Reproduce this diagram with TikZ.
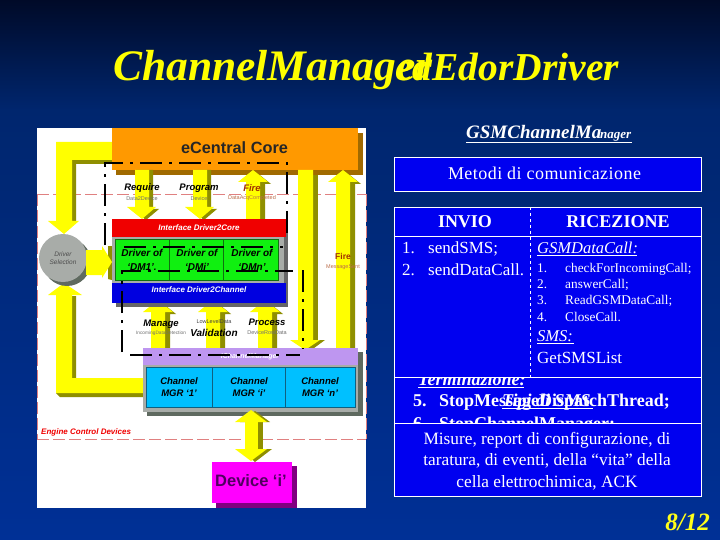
\documentclass[tikz,border=0pt]{standalone}
\usepackage{fontspec}
\setmainfont{Liberation Serif}
\newfontfamily\lsans{Liberation Sans}
\newfontfamily\spaced[LetterSpace=2.5]{Liberation Serif}
\usetikzlibrary{calc}
\definecolor{yel}{HTML}{FFFF00}
\definecolor{oli}{HTML}{8F8F00}
\definecolor{tblue}{HTML}{0000F0}
\definecolor{cgray}{HTML}{A8ACA8}
\definecolor{sgray}{HTML}{5F6A60}
\definecolor{firec}{HTML}{A03000}
\definecolor{orng}{HTML}{FF9900}
\definecolor{orngs}{HTML}{A06A00}
\definecolor{gren}{HTML}{10F010}
\definecolor{grens}{HTML}{107010}
\definecolor{redb}{HTML}{F00000}
\definecolor{blub}{HTML}{0000E0}
\definecolor{cyab}{HTML}{00C0FF}
\definecolor{cyas}{HTML}{106080}
\definecolor{purb}{HTML}{BE96F0}
\definecolor{magb}{HTML}{FF00FF}
\definecolor{mags}{HTML}{800080}
\definecolor{magt}{HTML}{500060}
\definecolor{pinkl}{HTML}{E08080}
\definecolor{grayl}{HTML}{707070}
\definecolor{bg0}{HTML}{000A28}
\definecolor{bg1}{HTML}{00266E}
\definecolor{bg2}{HTML}{003096}
\newcommand{\vdn}[3]{% x, ytop, ytip
  \fill[oli] (#1-6,#2) -- (#1+11,#2) -- (#1+11,#3-10) -- (#1+17,#3-10) -- (#1+4,#3+1) -- (#1-10,#3-10) -- (#1-6,#3-10) -- cycle;
  \fill[yel] (#1-7,#2) -- (#1+7,#2) -- (#1+7,#3-12) -- (#1+14,#3-12) -- (#1,#3) -- (#1-15,#3-12) -- (#1-7,#3-12) -- cycle;}
\newcommand{\vup}[3]{% x, ybot, ytip
  \fill[oli] (#1+7,#2) -- (#1+12,#2) -- (#1+12,#3+14) -- (#1+18,#3+14) -- (#1+3,#3+2) -- (#1+7,#3+14) -- cycle;
  \fill[yel] (#1-7,#2) -- (#1+7,#2) -- (#1+7,#3+12) -- (#1+15,#3+12) -- (#1,#3) -- (#1-15,#3+12) -- (#1-7,#3+12) -- cycle;}
\tikzset{
  lab/.style={font=\lsans\bfseries\itshape\fontsize{9.5}{10}\selectfont,inner sep=0pt,text=black,align=center},
  sublab/.style={font=\lsans\fontsize{5.5}{6}\selectfont,inner sep=0pt,text=grayl},
  drv/.style={font=\lsans\itshape\bfseries\fontsize{10}{14}\selectfont,inner sep=0pt,text=black,align=center},
  band/.style={font=\lsans\bfseries\itshape\fontsize{8}{9}\selectfont,inner sep=0pt,text=white},
  txt/.style={font=\fontsize{17}{18}\selectfont,inner sep=0pt,text=white,anchor=base west},
  stxt/.style={font=\fontsize{13.3}{14}\selectfont,inner sep=0pt,text=white,anchor=base west},
  bluebox/.style={fill=tblue,draw=white,line width=0.8pt},
  ddash/.style={draw=black,line width=2.4pt,dash pattern=on 22pt off 7pt on 3pt off 7pt},
  pinkd/.style={draw=pinkl,line width=0.7pt,dash pattern=on 12pt off 4pt}
}
\begin{document}
\begin{tikzpicture}[x=1pt,y=-1pt]
\useasboundingbox (0,0) rectangle (720,540);
\shade[top color=bg0,bottom color=bg1] (0,0) rectangle (720,110);
\shade[top color=bg1,bottom color=bg2] (0,110) rectangle (720,540);
% title
\node[font=\itshape\bfseries\fontsize{43.5}{45}\selectfont,text=yel,inner sep=0pt,anchor=base west] (t1) at (113,81) {ChannelManager};
\node[font=\itshape\bfseries\fontsize{39.5}{42}\selectfont,text=yel,inner sep=0pt,anchor=base west] (t2) at (395,81) {edEdorDriver};
% white panel
\fill[white] (37,128) rectangle (366,508);
\draw[pinkd] (37,194) -- (366,194);
\draw[pinkd] (37,439) -- (366,439);
\draw[pinkd] (37,194) -- (37,439);
\draw[pinkd] (366,194) -- (366,439);
% left loop arrows
\fill[oli] (76,164) -- (112,164) -- (112,160) -- (72,160) -- (72,222) -- (76,222) -- cycle;
\fill[yel] (56,142) -- (112,142) -- (112,160) -- (72,160) -- (72,221) -- (79,221) -- (64,234) -- (48,221) -- (56,221) -- cycle;
\fill[oli] (56,393) -- (60,397) -- (143,397) -- (143,393) -- cycle;
\fill[oli] (72,296) -- (76,296) -- (76,378) -- (143,378) -- (143,382) -- (72,382) -- cycle;
\fill[yel] (56,393) -- (143,393) -- (143,378) -- (72,378) -- (72,295) -- (82,295) -- (64,283) -- (48,295) -- (56,295) -- cycle;
% driver selection
\fill[sgray] (67,262) circle (24);
\node[circle,fill=cgray,minimum size=48pt,inner sep=0pt,font=\lsans\itshape\fontsize{6.5}{8}\selectfont,align=center,text=black!70] (sel) at (63,258) {Driver\\Selection};
\fill[oli] (108,246) -- (112,246) -- (112,280) -- (108,279) -- cycle;
\fill[yel] (86,250) -- (102,250) -- (102,246) -- (112,262) -- (102,278) -- (102,275) -- (86,275) -- cycle;
% orange
\fill[orngs] (116,133) rectangle (363,175);
\node[fill=orng,minimum width=246pt,minimum height=42pt,inner sep=0pt,anchor=north west] (core) at (112,128) {};
\node[font=\lsans\bfseries\fontsize{16.3}{18}\selectfont,text=black!85,inner sep=0pt] (coret) at (234.5,148) {eCentral Core};
% tall bars
\fill[oli] (313,175) rectangle (318,340);
\fill[oli] (295,340) -- (325,340) -- (310,351) -- cycle;
\fill[yel] (298,170) -- (313,170) -- (313,340) -- (320,340) -- (305,350) -- (290,340) -- (298,340) -- cycle;
\vup{343}{349}{170}
% top arrows
\vdn{142}{170}{219}
\vdn{200}{170}{219}
\vup{253}{219}{170}
\node[lab] (req) at (142,188) {Require};
\node[sublab] (reqs) at (142,198.5) {Data2Device};
\node[lab] (pro) at (199,188) {Program};
\node[sublab] (pros) at (199,198.5) {Device};
\node[lab,text=firec] (fir) at (252,188) {Fire};
\node[sublab,text=firec!70] (firs) at (252,198.5) {DataAcqCompleted};
\node[lab,text=firec,font=\lsans\bfseries\fontsize{8.5}{9}\selectfont] (fir2) at (343,256) {Fire};
\node[sublab,text=firec!70] (fir2s) at (343,267) {MessageSent};
% mid arrows
\vup{158}{348}{300}
\vup{213}{348}{300}
\vup{265}{348}{300}
\node[lab] (man) at (161,324) {Manage};
\node[sublab,font=\lsans\fontsize{4.8}{5}\selectfont] (mans) at (161,333) {IncomingDataDetection};
\node[sublab,text=black!75] (val0) at (214,322) {LowLevelData};
\node[lab,font=\lsans\itshape\bfseries\fontsize{10}{11}\selectfont] (val) at (214,333) {Validation};
\node[lab] (prc) at (267,322) {Process};
\node[sublab] (prcs) at (267,333) {DeviceRowData};
% driver block
\fill[black!60] (116,222) rectangle (288,307);
\fill[cgray] (112,237) rectangle (284,284);
\fill[gren] (115,239) rectangle (278,280);
\draw[grens,line width=0.6pt] (115,239) rectangle (278,280);
\draw[grens,line width=0.6pt] (169,239) -- (169,280);
\draw[grens,line width=0.6pt] (223,239) -- (223,280);
\node[fill=redb,minimum width=174pt,minimum height=18pt,inner sep=0pt,anchor=north west] (ifa) at (112,219) {};
\node[band] (ifat) at (199,228) {Interface Driver2Core};
\node[fill=blub,minimum width=174pt,minimum height=20pt,inner sep=0pt,anchor=north west] (ifb) at (112,283) {};
\node[band] (ifbt) at (199,290) {Interface Driver2Channel};
\node[drv] (d1) at (142,260) {Driver of\\‘DM1’.};
\node[drv] (d2) at (197,260) {Driver of\\‘DMi’};
\node[drv] (d3) at (252,260) {Driver of\\‘DMn’};
% channel block
\fill[sgray] (147,352) rectangle (363,416);
\fill[cgray] (143,365) rectangle (358,412);
\fill[cyab] (146,367) rectangle (355,407);
\draw[cyas,line width=0.6pt] (146,367) rectangle (355,407);
\draw[cyas,line width=0.6pt] (212,367) -- (212,407);
\draw[cyas,line width=0.6pt] (285,367) -- (285,407);
\node[fill=purb,minimum width=215pt,minimum height=17pt,inner sep=0pt,anchor=north west] (pur) at (143,348) {};
\node[band,font=\lsans\bfseries\itshape\fontsize{7}{8}\selectfont] (purt) at (250,357) {IChannelManager};
\node[drv,font=\lsans\itshape\bfseries\fontsize{9.5}{12.5}\selectfont] (c1) at (179,387) {Channel\\MGR ‘1’};
\node[drv,font=\lsans\itshape\bfseries\fontsize{9.5}{12.5}\selectfont] (c2) at (249,387) {Channel\\MGR ‘i’};
\node[drv,font=\lsans\itshape\bfseries\fontsize{9.5}{12.5}\selectfont] (c3) at (320,387) {Channel\\MGR ‘n’};
\node[lab,text=redb,anchor=west,font=\lsans\bfseries\itshape\fontsize{8}{9}\selectfont] (ecd) at (41,432) {Engine Control Devices};
% device
\fill[oli] (258,422) rectangle (263,449);
\fill[oli] (240,422) -- (270,422) -- (255,411) -- cycle;
\fill[oli] (240,449) -- (272,449) -- (255,462) -- cycle;
\fill[yel] (245,420) rectangle (258,450);
\fill[yel] (235,422) -- (267,422) -- (251,410) -- cycle;
\fill[yel] (235,449) -- (267,449) -- (251,461) -- cycle;
\fill[mags] (216,466) rectangle (297,508);
\node[fill=magb,minimum width=80pt,minimum height=41pt,inner sep=0pt,anchor=north west] (dev) at (212,462) {};
\node[font=\lsans\bfseries\fontsize{16.5}{18}\selectfont,text=magt,inner sep=0pt] (devt) at (251,481) {Device ‘i’};
% dash-dot lines
\draw[ddash] (105,245) -- (105,163) -- (287,163) -- (287,240);
\draw[ddash] (124,247) -- (283,247);
\draw[ddash] (122,352) -- (122,271) -- (293,271);
\draw[ddash] (130,355) -- (300,355);
\draw[ddash] (303,270) -- (303,349);
% right header
\node[font=\itshape\bfseries\fontsize{19}{20}\selectfont,text=white,inner sep=0pt,anchor=base west] (h1) at (466,139) {GSMChannelMa};
\node[font=\itshape\bfseries\fontsize{13}{20}\selectfont,text=white,inner sep=0pt,anchor=base west] (h2) at (600,139) {nager};
\draw[white,line width=0.9pt] (466,142) -- (632,142);
\node[bluebox,minimum width=307pt,minimum height=34pt,inner sep=0pt,anchor=north west] (met) at (394,157) {};
\node[font=\spaced\fontsize{18}{20}\selectfont,text=white,inner sep=0pt] (mett) at (544.5,173) {Metodi di comunicazione};
% middle box (partly hidden)
\node[bluebox,minimum width=307pt,minimum height=46pt,inner sep=0pt,anchor=north west] (midb) at (394,377) {};
\node[txt,font=\itshape\bfseries\fontsize{18}{19}\selectfont] (term) at (418,385) {Terminazione:};
\draw[white,line width=0.9pt] (418,387) -- (524,387);
\node[txt,font=\bfseries\fontsize{18}{19}\selectfont] (n5) at (413,406) {5.};
\node[txt,font=\bfseries\fontsize{18}{19}\selectfont] (stop) at (439,406) {StopMessageDispatchThread;};
\node[txt,font=\bfseries\fontsize{18}{19}\selectfont] (n6) at (413,429) {6.};
\node[txt,font=\bfseries\fontsize{18}{19}\selectfont] (stop2) at (439,429) {StopChannelManager;};
\node[txt,font=\itshape\bfseries\fontsize{18}{19}\selectfont] (tipi) at (502,406) {Tipi di SMS};
\draw[white,line width=0.9pt] (502,408.5) -- (593,408.5);
% table
\node[bluebox,minimum width=307pt,minimum height=170pt,inner sep=0pt,anchor=north west] (tab) at (394,207) {};
\draw[white,line width=0.8pt] (394,236) -- (701,236);
\draw[white,line width=0.7pt,dashed] (530,207) -- (530,377);
\node[font=\bfseries\fontsize{18}{20}\selectfont,text=white,inner sep=0pt] (inv) at (465,222) {INVIO};
\node[font=\bfseries\fontsize{18}{20}\selectfont,text=white,inner sep=0pt] (ric) at (618,222) {RICEZIONE};
\node[txt] (a1) at (402,253) {1.};
\node[txt] (a1t) at (428,253) {sendSMS;};
\node[txt] (a2) at (402,275) {2.};
\node[txt] (a2t) at (428,275) {sendDataCall.};
\node[txt,font=\itshape\fontsize{16.5}{18}\selectfont] (gd) at (537,253) {GSMDataCall:};
\draw[white,line width=0.7pt] (537,255.5) -- (637,255.5);
\node[stxt] (b1) at (537,272) {1.};
\node[stxt] (b1t) at (565,272) {checkForIncomingCall;};
\node[stxt] (b2) at (537,288.5) {2.};
\node[stxt] (b2t) at (565,288.5) {answerCall;};
\node[stxt] (b3) at (537,304.5) {3.};
\node[stxt] (b3t) at (565,304.5) {ReadGSMDataCall;};
\node[stxt] (b4) at (537,321) {4.};
\node[stxt] (b4t) at (565,321) {CloseCall.};
\node[txt,font=\itshape\fontsize{16.5}{18}\selectfont] (sms) at (537,341) {SMS:};
\draw[white,line width=0.7pt] (537,343.5) -- (574,343.5);
\node[txt] (gsl) at (537,363) {GetSMSList};
% bottom box
\node[bluebox,minimum width=307pt,minimum height=73pt,inner sep=0pt,anchor=north west] (bot) at (394,423) {};
\node[font=\fontsize{17.3}{21.6}\selectfont,text=white,align=center,inner sep=0pt] (mis) at (547,461) {Misure, report di configurazione, di\\taratura, di eventi, della “vita” della\\cella elettrochimica, ACK};
\node[font=\itshape\bfseries\fontsize{25}{27}\selectfont,text=yel!90!white,inner sep=0pt,anchor=base east] (pg) at (710,530) {8/12};
\end{tikzpicture}
\end{document}
